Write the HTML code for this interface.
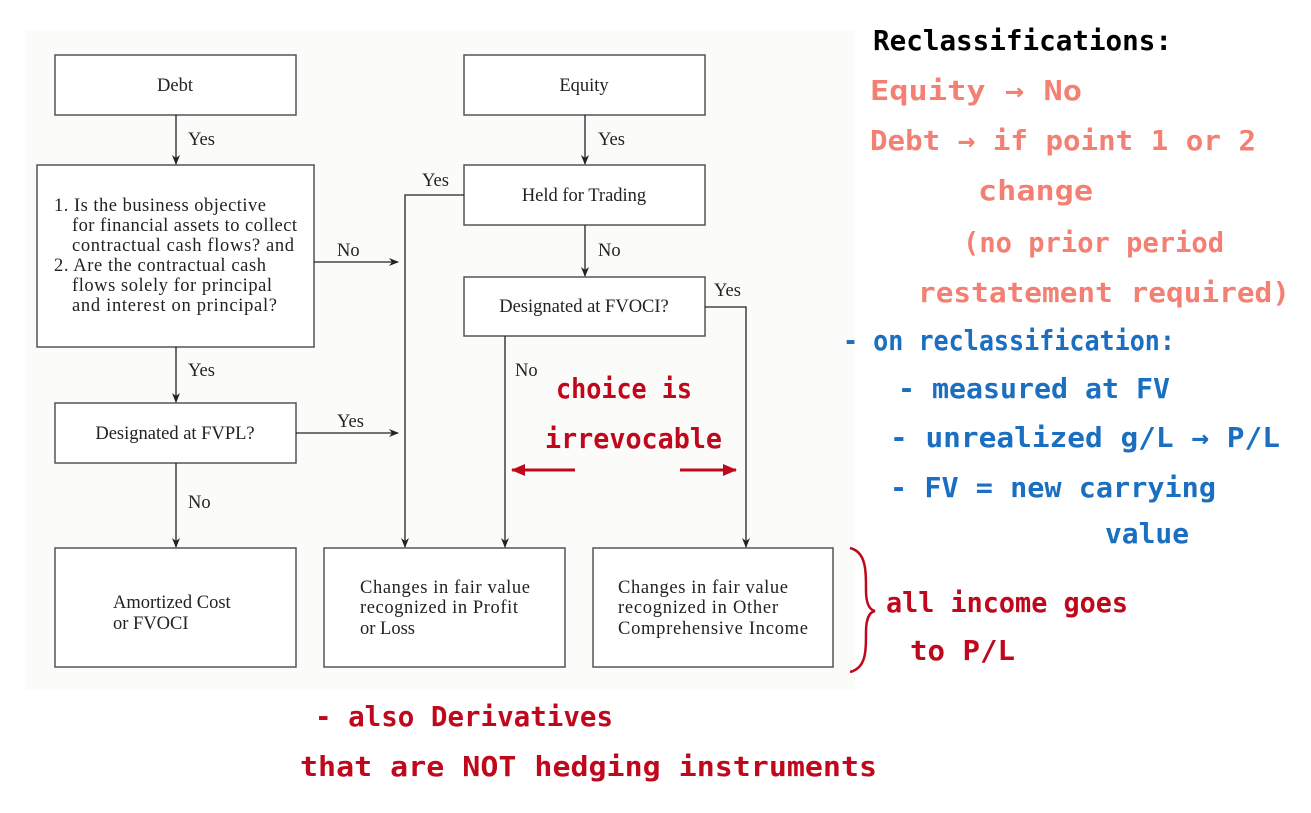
<!DOCTYPE html>
<html><head><meta charset="utf-8"><style>
html,body{margin:0;padding:0;background:#fff;}
svg{display:block}
.s{font-family:"Liberation Serif",serif;font-size:18.5px;fill:#222}
.h{font-family:"DejaVu Sans Mono","Liberation Mono",monospace;font-weight:bold;font-size:28px}
</style></head><body>
<svg width="1311" height="813" viewBox="0 0 1311 813" xmlns="http://www.w3.org/2000/svg">
<defs><marker id="a" markerWidth="10" markerHeight="10" refX="9" refY="5" orient="auto" markerUnits="userSpaceOnUse"><path d="M0,1 L10,5 L0,9 L3,5 Z" fill="#222"/></marker>
<marker id="r" markerWidth="14" markerHeight="12" refX="13" refY="6" orient="auto" markerUnits="userSpaceOnUse"><path d="M0,0 L14,6 L0,12 Z" fill="#c0081c"/></marker></defs>
<rect x="25" y="30" width="830" height="660" fill="#fbfbfa"/>
<g fill="#fff" stroke="#555" stroke-width="1.5">
<rect x="55" y="55" width="241" height="60"/>
<rect x="464" y="55" width="241" height="60"/>
<rect x="37" y="165" width="277" height="182"/>
<rect x="464" y="165" width="241" height="60"/>
<rect x="464" y="277" width="241" height="59"/>
<rect x="55" y="403" width="241" height="60"/>
<rect x="55" y="548" width="241" height="119"/>
<rect x="324" y="548" width="241" height="119"/>
<rect x="593" y="548" width="240" height="119"/>
</g>
<g stroke="#222" stroke-width="1.3" fill="none" marker-end="url(#a)">
<path d="M176,115 V164"/><path d="M585,115 V164"/><path d="M585,225 V276"/>
<path d="M314,262 H398"/><path d="M464,195 H405 V547"/><path d="M296,433 H398"/>
<path d="M176,347 V402"/><path d="M176,463 V547"/><path d="M505,336 V547"/>
<path d="M705,307 H746 V547"/>
</g>
<g class="s">
<text x="175" y="91" text-anchor="middle">Debt</text>
<text x="584" y="91" text-anchor="middle">Equity</text>
<text x="584" y="201" text-anchor="middle">Held for Trading</text>
<text x="584" y="312" text-anchor="middle">Designated at FVOCI?</text>
<text x="175" y="439" text-anchor="middle">Designated at FVPL?</text>
<text x="54" y="211" textLength="212">1. Is the business objective</text>
<text x="72" y="231" textLength="225">for financial assets to collect</text>
<text x="72" y="251" textLength="222">contractual cash flows? and</text>
<text x="54" y="271" textLength="212">2. Are the contractual cash</text>
<text x="72" y="291" textLength="200">flows solely for principal</text>
<text x="72" y="311" textLength="205">and interest on principal?</text>
<text x="113" y="608">Amortized Cost</text><text x="113" y="629">or FVOCI</text>
<text x="360" y="593" textLength="170">Changes in fair value</text><text x="360" y="613" textLength="158">recognized in Profit</text><text x="360" y="634">or Loss</text>
<text x="618" y="593" textLength="170">Changes in fair value</text><text x="618" y="613" textLength="160">recognized in Other</text><text x="618" y="634" textLength="190">Comprehensive Income</text>
<text x="188" y="145">Yes</text><text x="598" y="145">Yes</text><text x="598" y="256">No</text>
<text x="337" y="256">No</text><text x="422" y="186">Yes</text><text x="337" y="427">Yes</text>
<text x="188" y="376">Yes</text><text x="188" y="508">No</text><text x="515" y="376">No</text><text x="714" y="296">Yes</text>
</g>
<g stroke="#c0081c" stroke-width="3" fill="none">
<path d="M575,470 H512" marker-end="url(#r)"/>
<path d="M680,470 H736" marker-end="url(#r)"/>
<path d="M850,548 C866,552 866,570 866,590 C866,605 870,610 875,611 C870,612 866,618 866,632 C866,652 866,668 850,672" stroke-width="2.5"/>
</g>
<g class="h" lengthAdjust="spacingAndGlyphs">
<text x="873" y="50" fill="#000" textLength="299" lengthAdjust="spacingAndGlyphs">Reclassifications:</text>
<g fill="#f47f73">
<text x="870" y="100" textLength="212" lengthAdjust="spacingAndGlyphs">Equity → No</text>
<text x="870" y="150" textLength="386" lengthAdjust="spacingAndGlyphs">Debt → if point 1 or 2</text>
<text x="978" y="200" textLength="115" lengthAdjust="spacingAndGlyphs">change</text>
<text x="963" y="252" textLength="261" lengthAdjust="spacingAndGlyphs">(no prior period</text>
<text x="918" y="302" textLength="372" lengthAdjust="spacingAndGlyphs">restatement required)</text>
</g>
<g fill="#1a6fc0">
<text x="843" y="350" textLength="332" lengthAdjust="spacingAndGlyphs">- on reclassification:</text>
<text x="898" y="398" textLength="272" lengthAdjust="spacingAndGlyphs">- measured at FV</text>
<text x="890" y="447" textLength="390" lengthAdjust="spacingAndGlyphs">- unrealized g/L → P/L</text>
<text x="890" y="497" textLength="326" lengthAdjust="spacingAndGlyphs">- FV = new carrying</text>
<text x="1105" y="543" textLength="84" lengthAdjust="spacingAndGlyphs">value</text>
</g>
<g fill="#c0081c">
<text x="556" y="398" textLength="136" lengthAdjust="spacingAndGlyphs">choice is</text>
<text x="545" y="448" textLength="177" lengthAdjust="spacingAndGlyphs">irrevocable</text>
<text x="886" y="612" textLength="242" lengthAdjust="spacingAndGlyphs">all income goes</text>
<text x="910" y="660" textLength="105" lengthAdjust="spacingAndGlyphs">to P/L</text>
<text x="315" y="726" textLength="298" lengthAdjust="spacingAndGlyphs">- also Derivatives</text>
<text x="300" y="776" textLength="577" lengthAdjust="spacingAndGlyphs">that are NOT hedging instruments</text>
</g>
</g>
</svg>
</body></html>
